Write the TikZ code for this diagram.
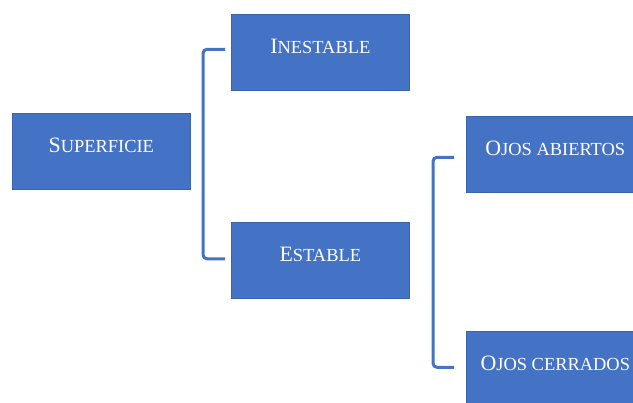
\documentclass[tikz,border=0pt]{standalone}
\usepackage{fontspec}
\setmainfont{Liberation Serif}
\usetikzlibrary{calc}
\definecolor{boxblue}{HTML}{4472C4}
\definecolor{boxedge}{HTML}{3B64AD}
\newcommand{\bigc}[1]{{\fontsize{22}{26}\selectfont #1}}
\newcommand{\smc}[1]{{\fontsize{18.5}{22}\selectfont #1}}
\begin{document}
\begin{tikzpicture}[x=1bp,y=-1bp,
  box/.style={rectangle, fill=boxblue, draw=boxedge, line width=0.6bp,
    minimum width=178bp, minimum height=76bp, inner sep=0pt, text=white,
    text height=10bp, text depth=7bp, anchor=north west},
  bracket/.style={draw=boxblue, line width=3bp, rounded corners=4bp}]
\useasboundingbox (0,0) rectangle (633,402);
\clip (0,0) rectangle (633,402);
\node[box] (sup) at (12,113) {\bigc{S}\smc{UPERFICIE}};
\node[box] (ines) at (231,14) {\bigc{I}\smc{NESTABLE}};
\node[box] (est) at (231,222) {\bigc{E}\smc{STABLE}};
\node[box] (abi) at (466,116) {\bigc{O}\smc{JOS ABIERTOS}};
\node[box] (cer) at (466,331) {\bigc{O}\smc{JOS CERRADOS}};
\draw[bracket] ($(ines.west)+(-6,-3)$) -- ++(-22,0) |- ($(est.west)+(-6,-1.5)$);
\draw[bracket] ($(abi.west)+(-12,3)$) -- ++(-21,0) |- ($(cer.west)+(-12,-2)$);
\end{tikzpicture}
\end{document}
